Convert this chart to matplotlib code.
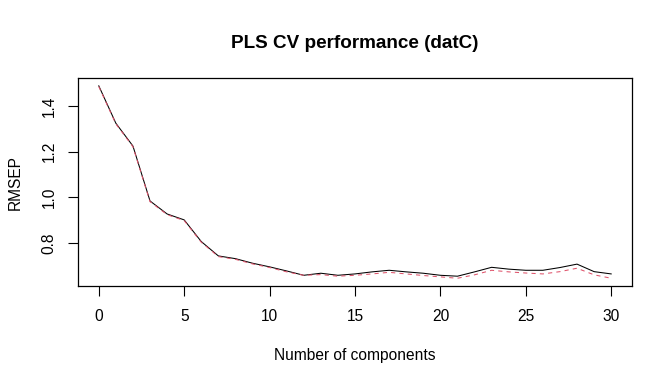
import matplotlib
matplotlib.use("Agg")
import matplotlib.pyplot as plt

plt.rcParams['font.family'] = ['Liberation Sans', 'DejaVu Sans']

# RMSEP by number of PLS components
ncomp = list(range(31))
cv = [1.489, 1.325, 1.225, 0.984, 0.927, 0.901, 0.806, 0.743, 0.731, 0.711,
      0.695, 0.677, 0.658, 0.667, 0.658, 0.664, 0.673, 0.680, 0.673, 0.667,
      0.658, 0.654, 0.673, 0.693, 0.685, 0.680, 0.680, 0.692, 0.707, 0.674,
      0.664]
adj_cv = [1.486, 1.322, 1.222, 0.981, 0.924, 0.898, 0.803, 0.740, 0.728, 0.708,
          0.692, 0.673, 0.658, 0.661, 0.654, 0.658, 0.664, 0.671, 0.664, 0.657,
          0.651, 0.645, 0.660, 0.680, 0.673, 0.668, 0.664, 0.674, 0.689, 0.660,
          0.645]

xticks = [0, 5, 10, 15, 20, 25, 30]
yticks = [0.8, 1.0, 1.2, 1.4]

fig = plt.figure(figsize=(6.72, 3.84), dpi=100)
ax = fig.add_axes([0.1165, 0.2552, 0.8235, 0.5408])

ax.plot(ncomp, cv, color='black', lw=0.75)
ax.plot(ncomp, adj_cv, color='#DF536B', lw=0.75, ls=(0, (4, 4)))

ax.set_xlim(-1.2, 31.2)
ax.set_ylim(0.611, 1.522)
ax.set_xticks(xticks)
ax.set_yticks(yticks)
ax.set_yticklabels(['0.8', '1.0', '1.2', '1.4'], rotation=90, va='center')

for s in ax.spines.values():
    s.set_linewidth(0.9)
    s.set_color('black')
ax.tick_params(direction='out', length=6.9, width=0.8, colors='black',
               labelsize=11.2)
ax.tick_params(axis='x', pad=9.9)
ax.tick_params(axis='y', pad=8.7)

# axis titles and main title placed like R's base graphics
ax.text(0.5, -0.3563, "Number of components", transform=ax.transAxes,
        ha='center', va='baseline', fontsize=11.2)
ax.text(-0.1053, 0.5, "RMSEP", transform=ax.transAxes, rotation=90,
        rotation_mode='anchor', ha='center', va='baseline', fontsize=11.2)
ax.text(0.5, 1.1444, "PLS CV performance (datC)", transform=ax.transAxes,
        ha='center', va='baseline', fontsize=13.6, fontweight='bold')

fig.savefig("out.png", dpi=100)
